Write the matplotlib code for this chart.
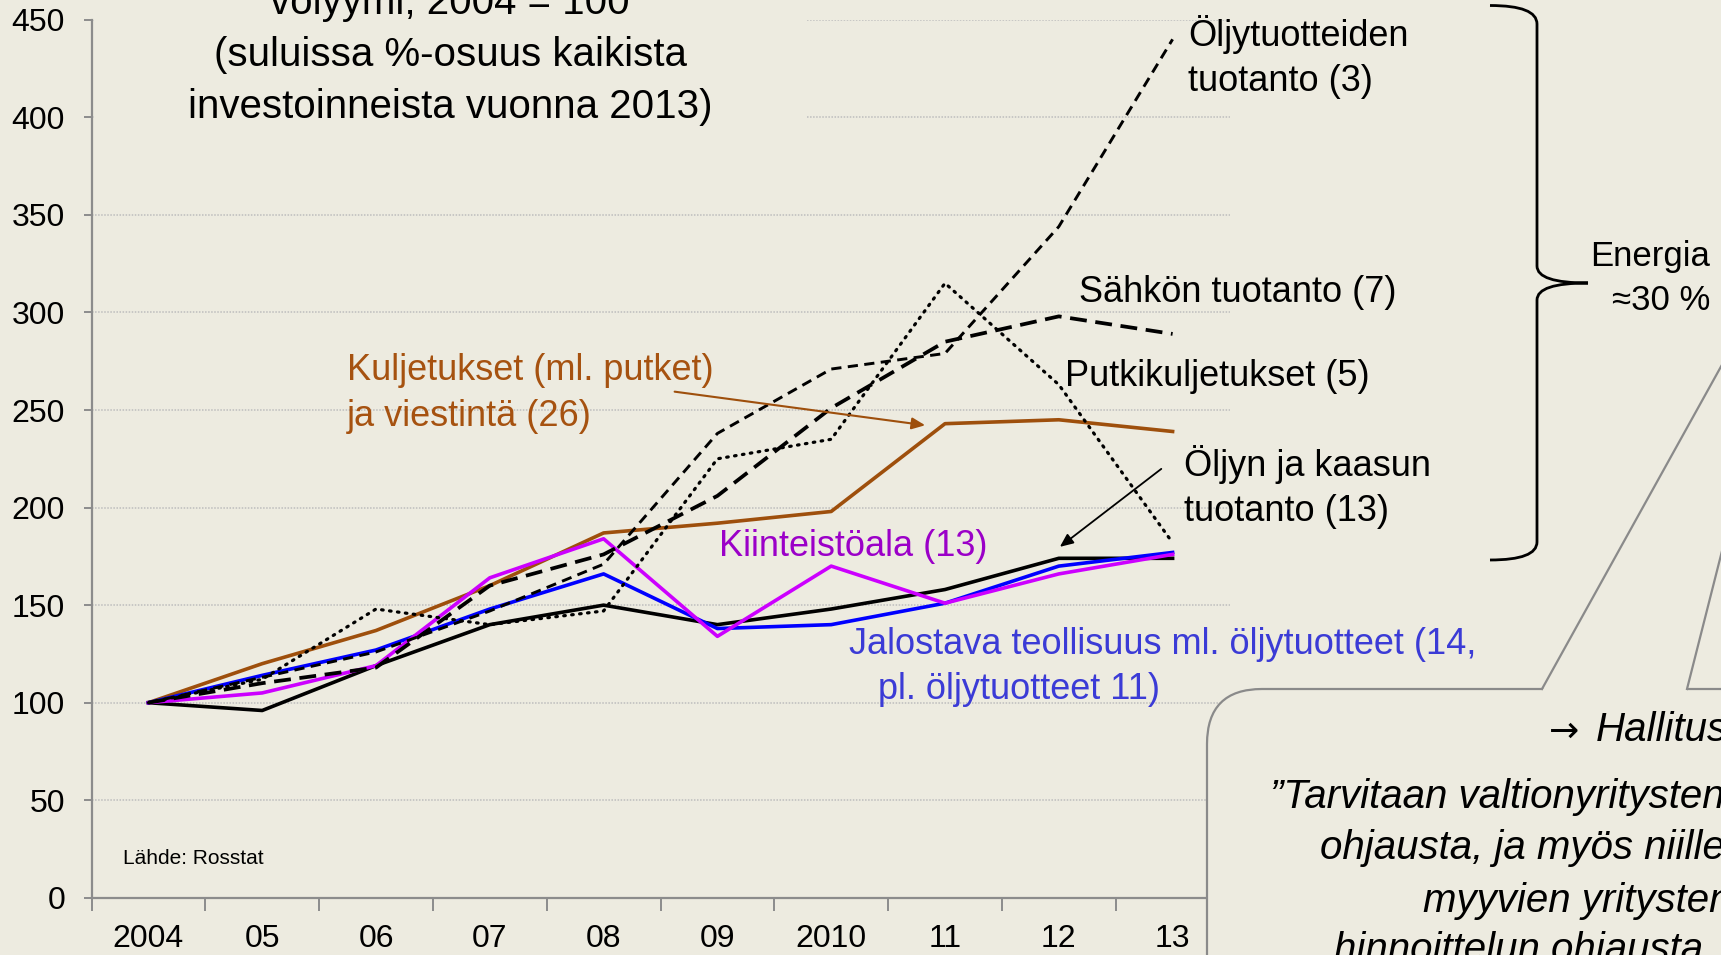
import matplotlib.pyplot as plt
from matplotlib.patches import FancyBboxPatch, PathPatch, Rectangle, Polygon
from matplotlib.path import Path

plt.rcParams['font.family'] = ['Liberation Sans', 'DejaVu Sans']

# data (index, 2004 = 100)
years = ["2004", "05", "06", "07", "08", "09", "2010", "11", "12", "13"]
oljytuotteet = [100, 113, 126, 147, 171, 238, 271, 279, 344, 440]
sahko = [100, 110, 118, 160, 176, 206, 251, 285, 298, 289]
putki = [100, 112, 148, 140, 147, 225, 235, 315, 263, 182]
kuljetus = [100, 120, 137, 160, 187, 192, 198, 243, 245, 239]
kiinteisto = [100, 105, 119, 164, 184, 134, 170, 151, 166, 176]
jalostava = [100, 114, 127, 148, 166, 138, 140, 151, 170, 177]
oljy_kaasu = [100, 96, 119, 140, 150, 140, 148, 158, 174, 174]

bg = "#EDEBE0"
brown = "#9E4F0C"
W, H = 1721, 955

fig = plt.figure(figsize=(W / 100, H / 100), dpi=100, facecolor=bg)
ax = fig.add_axes([91.5 / W, 57.2 / H, 1138 / W, 878 / H])
ax.set_facecolor(bg)
x = list(range(len(years)))

# solid series
ax.plot(x, kuljetus, color=brown, lw=2.6, zorder=2)
ax.plot(x, oljy_kaasu, color="black", lw=2.6, zorder=2)
ax.plot(x, jalostava, color="#0000FF", lw=2.6, zorder=2.1)
ax.plot(x, kiinteisto, color="#CC00FF", lw=2.6, zorder=2.2)
# energy series
ax.plot(x, putki, color="black", lw=2.3, linestyle=(0, (0.5, 2.0)),
        dash_capstyle="round", zorder=2.3)
ax.plot(x, oljytuotteet, color="black", lw=2.1, linestyle=(0, (3.5, 2.2)), zorder=2.4)
ax.plot(x, sahko, color="black", lw=2.7, linestyle=(0, (4.5, 2.3)), zorder=2.4)

ax.set_xlim(-0.5, 9.5)
ax.set_ylim(0, 450)
ax.set_yticks(range(0, 451, 50))
ax.set_xticks([i - 0.5 for i in range(11)])
ax.set_xticklabels([])
ax.set_xticks(x, minor=True)
ax.set_xticklabels(years, minor=True)
ax.tick_params(axis="x", which="minor", length=0, pad=19, labelsize=23)
ax.tick_params(axis="x", which="major", length=9, color="#8C8C8C", width=1.4)
ax.tick_params(axis="y", length=6, color="#8C8C8C", width=1.4, pad=13, labelsize=23)
for s in ["top", "right"]:
    ax.spines[s].set_visible(False)
for s in ["left", "bottom"]:
    ax.spines[s].set_color("#8C8C8C")
    ax.spines[s].set_linewidth(1.6)
ax.yaxis.grid(True, color="#BDBDBD", linestyle=(0, (1, 1)), linewidth=1.1)
ax.set_axisbelow(True)

# title area hides the upper gridlines
ax.add_patch(Rectangle((-0.48, 380), 6.27, 75, facecolor=bg, edgecolor="none", zorder=1))

# series labels
fs = 26
ax.text(9.135, 431, "Öljytuotteiden\ntuotanto (3)", fontsize=fs, va="center",
        ha="left", linespacing=1.38)
ax.text(8.18, 310, "Sähkön tuotanto (7)", fontsize=fs, va="center", ha="left")
ax.text(8.055, 267, "Putkikuljetukset (5)", fontsize=fs, va="center", ha="left")
ax.text(9.096, 210.5, "Öljyn ja kaasun\ntuotanto (13)", fontsize=fs, va="center",
        ha="left", linespacing=1.38)
ax.text(1.747, 258.5, "Kuljetukset (ml. putket)\nja viestintä (26)", fontsize=fs,
        va="center", ha="left", color="#A65210", linespacing=1.42)
ax.text(5.017, 180, "Kiinteistöala (13)", fontsize=fs, va="center", ha="left",
        color="#9B00C8")
ax.text(6.155, 130, "Jalostava teollisuus ml. öljytuotteet (14,", fontsize=fs,
        va="center", ha="left", color="#3B3BD6")
ax.text(6.415, 107, "pl. öljytuotteet 11)", fontsize=fs, va="center", ha="left",
        color="#3B3BD6")
ax.text(-0.22, 20, "Lähde: Rosstat", fontsize=15, va="center", ha="left")

ax.annotate("", xy=(6.85, 242), xytext=(4.6, 259.6),
            arrowprops=dict(arrowstyle="-|>,head_length=0.8,head_width=0.35",
                            color=brown, lw=1.5))
ax.annotate("", xy=(7.99, 179), xytext=(8.92, 220.7),
            arrowprops=dict(arrowstyle="-|>,head_length=0.8,head_width=0.35",
                            color="black", lw=1.3))

# title
fig.text(450 / W, 1 - 3 / H, "volyymi, 2004 = 100", fontsize=29, ha="center", va="center")
fig.text(450 / W, 1 - 55 / H, "(suluissa %-osuus kaikista", fontsize=29, ha="center", va="center")
fig.text(450 / W, 1 - 106.5 / H, "investoinneista vuonna 2013)", fontsize=29,
         ha="center", va="center")

# overlay in pixel coordinates for brace and callout
ov = fig.add_axes([0, 0, 1, 1], zorder=5)
ov.set_xlim(0, W)
ov.set_ylim(H, 0)
ov.axis("off")
ov.patch.set_alpha(0)

verts = [(1490, 5.5), (1537, 5.5), (1537, 24), (1537, 266), (1537, 283), (1588, 283),
         (1537, 283), (1537, 300), (1537, 542), (1537, 560), (1490, 560)]
codes = [Path.MOVETO, Path.CURVE3, Path.CURVE3, Path.LINETO, Path.CURVE3, Path.CURVE3,
         Path.CURVE3, Path.CURVE3, Path.LINETO, Path.CURVE3, Path.CURVE3]
ov.add_patch(PathPatch(Path(verts, codes), facecolor="none", edgecolor="black", lw=2.0))
ov.text(1710, 256, "Energia", fontsize=25, ha="right", va="center")
ov.text(1710, 300, "≈30 %", fontsize=25, ha="right", va="center")

ov.add_patch(FancyBboxPatch((1207, 689), 700, 400, boxstyle="round,pad=0,rounding_size=55",
                            facecolor=bg, edgecolor="#8A8A8A", lw=1.6))
ov.add_patch(Polygon([(1542, 691), (1809, 208), (1687, 691)], closed=True,
                     facecolor=bg, edgecolor="none"))
ov.plot([1542, 1809], [689, 208], color="#8A8A8A", lw=1.6)
ov.plot([1687, 1809], [689, 208], color="#8A8A8A", lw=1.6)

cs = 29
ov.text(1549, 732, "→", fontsize=26, family="DejaVu Sans", ha="left", va="center")
ov.text(1596, 730, "Hallitus", fontsize=cs, style="italic", ha="left", va="center")
ov.text(1270, 797, "”Tarvitaan valtionyritysten", fontsize=cs, style="italic",
        ha="left", va="center")
ov.text(1320, 848, "ohjausta, ja myös niille", fontsize=cs, style="italic",
        ha="left", va="center")
ov.text(1423, 901, "myyvien yritysten", fontsize=cs, style="italic", ha="left", va="center")
ov.text(1334, 950, "hinnoittelun ohjausta", fontsize=cs, style="italic",
        ha="left", va="center")

fig.savefig("out.png", dpi=100, facecolor=bg)
